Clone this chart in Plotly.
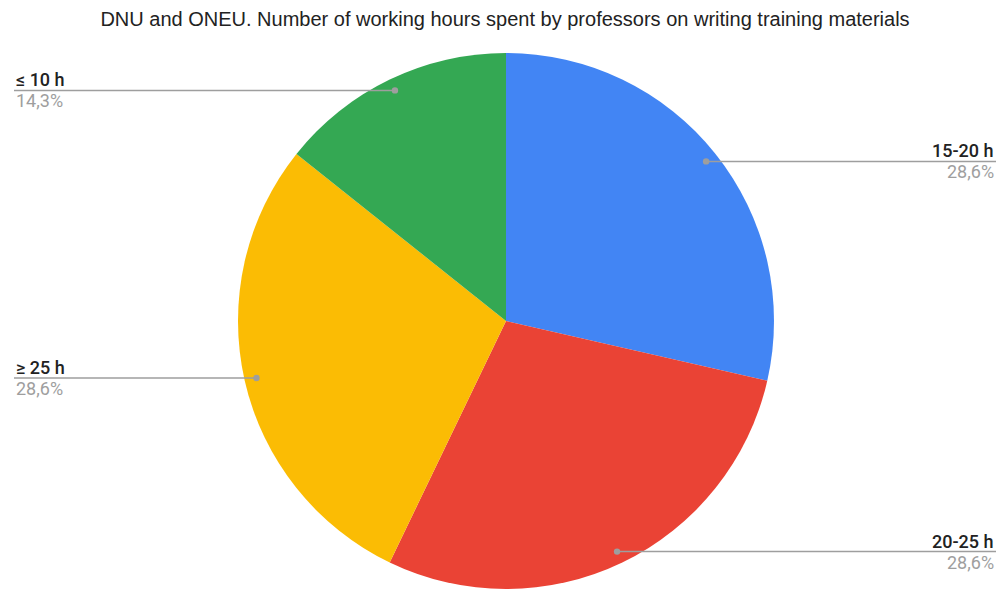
import numpy as np
import plotly.graph_objects as go

# Data
labels = ["15-20 h", "20-25 h", "≥ 25 h", "≤ 10 h"]
values = [28.6, 28.6, 28.6, 14.3]
pct_text = ["28,6%", "28,6%", "28,6%", "14,3%"]
colors = ["#4285F4", "#EA4335", "#FBBC04", "#34A853"]
title = "DNU and ONEU. Number of working hours spent by professors on writing training materials"

W, H = 1000, 589
top = 53
dom_x = [0.012, 1.0]
plot_h = H - top
plot_w = W
R = min(plot_w * (dom_x[1] - dom_x[0]), plot_h) / 2
cx = W * (dom_x[0] + dom_x[1]) / 2
cy = top + plot_h / 2

fig = go.Figure(go.Pie(
    labels=labels, values=values, sort=False, direction="clockwise", rotation=0,
    marker=dict(colors=colors, line=dict(width=0)),
    textinfo="none", showlegend=False, domain=dict(x=dom_x, y=[0, 1]),
    hovertemplate="%{label}: %{percent}<extra></extra>",
))

vals = np.array(values, dtype=float)
frac = vals / vals.sum()
mid = (np.cumsum(frac) - frac / 2) * 2 * np.pi

line_col = "#9e9e9e"
shapes = []
annotations = []
for lab, pt, m in zip(labels, pct_text, mid):
    px = cx + 0.955 * R * np.sin(m)
    py = cy - 0.955 * R * np.cos(m)
    xp = px / W
    yp = (H - py) / plot_h
    right = np.sin(m) > 0
    x_end = 996 / W if right else 14 / W
    shapes.append(dict(type="line", xref="paper", yref="paper", x0=xp, x1=x_end, y0=yp, y1=yp,
                       line=dict(color=line_col, width=1.5)))
    rx, ry = 3.2 / W, 3.2 / plot_h
    shapes.append(dict(type="circle", xref="paper", yref="paper", x0=xp - rx, x1=xp + rx,
                       y0=yp - ry, y1=yp + ry, fillcolor=line_col, line=dict(width=0)))
    anchor = "right" if right else "left"
    annotations.append(dict(xref="paper", yref="paper", x=x_end, y=yp, text=lab, showarrow=False,
                            xanchor=anchor, yanchor="bottom", yshift=-2,
                            font=dict(family="Roboto", size=18, color="#222222", weight=500)))
    annotations.append(dict(xref="paper", yref="paper", x=x_end, y=yp, text=pt, showarrow=False,
                            xanchor=anchor, yanchor="top", yshift=2,
                            font=dict(family="Roboto", size=18, color="#9e9e9e")))

fig.update_layout(
    width=W, height=H,
    margin=dict(l=0, r=0, t=top, b=0),
    paper_bgcolor="white", plot_bgcolor="white",
    title=dict(text=title, x=0.505, xref="paper", xanchor="center", y=1 - 19 / H, yanchor="middle",
               font=dict(family="Liberation Sans", size=20, color="#222222")),
    shapes=shapes, annotations=annotations,
)

fig.write_html("out.html")
